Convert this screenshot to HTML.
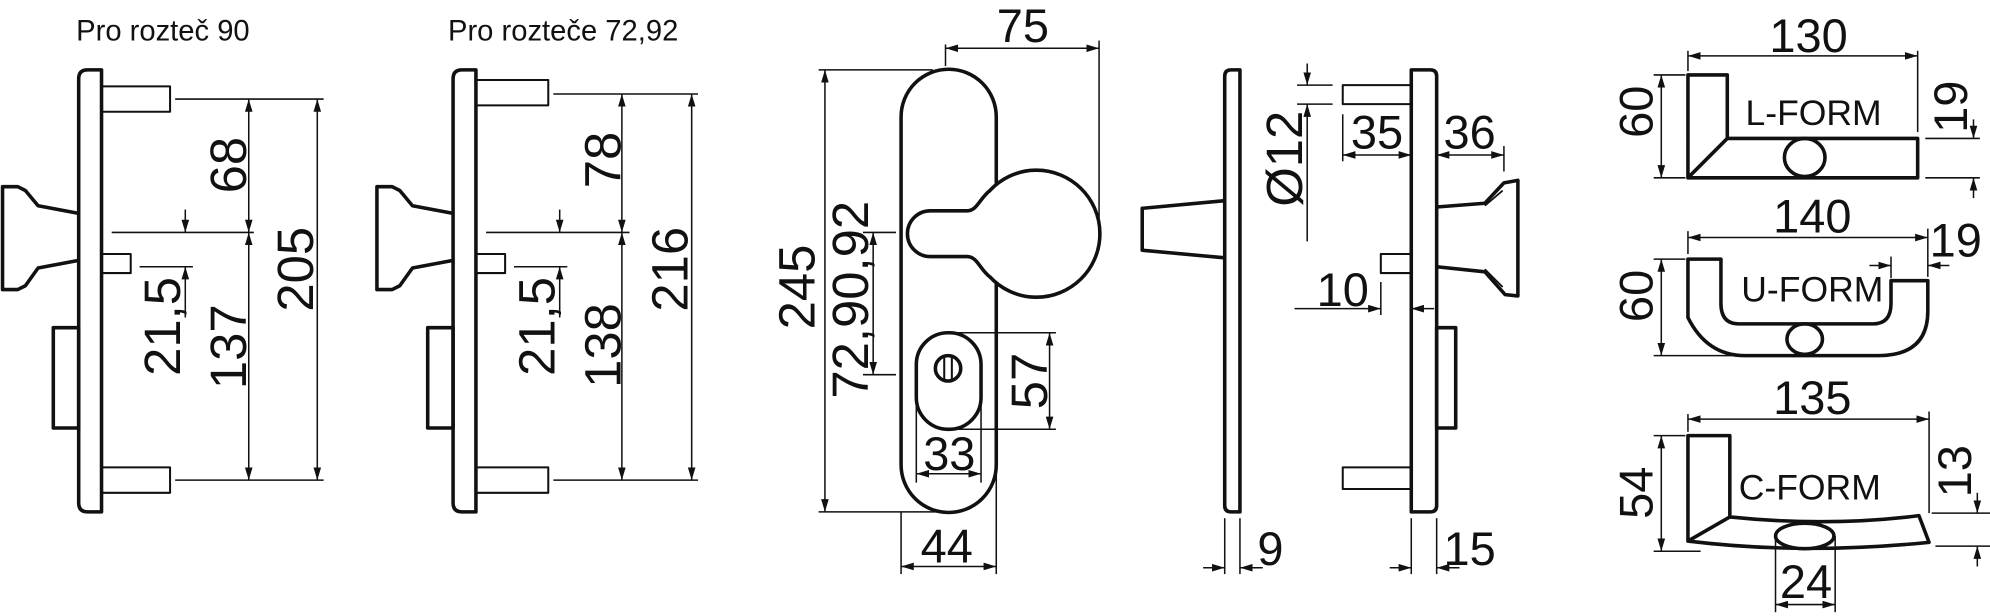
<!DOCTYPE html>
<html><head><meta charset="utf-8"><style>
html,body{margin:0;padding:0;background:#fff;}
svg{display:block;}
text{font-family:"Liberation Sans",sans-serif;fill:#111;}
</style></head><body>
<svg width="1990" height="616" viewBox="0 0 1568 485" preserveAspectRatio="none" xmlns="http://www.w3.org/2000/svg">
<defs>
<marker id="a" viewBox="0 0 10 6" refX="10" refY="3" markerWidth="10" markerHeight="6" markerUnits="userSpaceOnUse" orient="auto-start-reverse"><path d="M0,0 L10,3 L0,6 Z" fill="#111"/></marker>
</defs>
<g fill="none" stroke="#111" stroke-width="2.8" stroke-linejoin="round">
<!-- Panel 1 -->
<path d="M62,62 Q62,55 69,55 H80 V403 H69 Q62,403 62,396 Z"/>
<rect x="80" y="68" width="54" height="20" stroke-width="1.6"/>
<rect x="80" y="200" width="23" height="15" stroke-width="1.6"/>
<rect x="80" y="368" width="54" height="20" stroke-width="1.6"/>
<rect x="42" y="258" width="20" height="79"/>
<path d="M62,168 L30,162 L20,150 L14,147 H2 V228 H14 L20,225 L30,211 L62,205"/>
<!-- Panel 2 -->
<path d="M357,62 Q357,55 364,55 H375 V403 H364 Q357,403 357,396 Z"/>
<rect x="375" y="63" width="57" height="20" stroke-width="1.6"/>
<rect x="375" y="200" width="23" height="15" stroke-width="1.6"/>
<rect x="375" y="368" width="57" height="20" stroke-width="1.6"/>
<rect x="337" y="258" width="20" height="79"/>
<path d="M357,168 L325,162 L315,150 L309,147 H297 V228 H309 L315,225 L325,211 L357,205"/>
<!-- Panel 3 front -->
<path d="M710,92 A37.5,37.5 0 0 1 785,92 V366 A37.5,37.5 0 0 1 710,366 Z"/>
<path d="M733,166 H762 C770,166 772,156 780,150 A50,50 0 1 1 780,218 C772,212 770,202 762,202 H733 A18,18 0 0 1 733,166 Z" fill="#fff"/>
<rect x="722" y="262" width="51" height="76" rx="25" fill="#fff"/>
<circle cx="747" cy="290" r="10"/>
<line x1="744" y1="281" x2="744" y2="299" stroke-width="1.6"/>
<line x1="750" y1="281" x2="750" y2="299" stroke-width="1.6"/>
<!-- Panel 4 side -->
<path d="M965,60 Q965,55 970,55 H977 V403 H970 Q965,403 965,398 Z"/>
<path d="M965,158 L900,164 V197 L965,203"/>
<!-- Panel 5 -->
<path d="M1112,55 H1127 Q1132,55 1132,60 V398 Q1132,403 1127,403 H1112 Z"/>
<rect x="1058" y="67" width="54" height="15" stroke-width="1.6"/>
<rect x="1088" y="200" width="24" height="15" stroke-width="1.6"/>
<rect x="1058" y="368" width="54" height="17" stroke-width="1.6"/>
<rect x="1132" y="258" width="15" height="79"/>
<path d="M1132,163 L1170,160 L1185,144 L1196,142 V233 L1186,232 L1170,214 L1132,210"/>
<path d="M1170,162 L1184,150 M1170,212 L1184,226" stroke-width="1.4"/>
<!-- L-FORM -->
<path d="M1330,59 H1361 V109 H1511 V140 H1330 Z M1361,109 L1330,140"/>
<ellipse cx="1422" cy="124" rx="16" ry="15"/>
<!-- U-FORM -->
<path d="M1330,204 H1356 V239 Q1356,255 1370,255 H1476 Q1490,255 1490,239 V221 H1519 V245 Q1519,280 1480,280 H1375 Q1345,280 1330,250 Z"/>
<ellipse cx="1422" cy="267" rx="14" ry="12"/>
<!-- C-FORM -->
<path d="M1330,343 H1363 V407 Q1440,415 1512,406 L1520,427 Q1420,437 1330,426 Z M1363,407 L1330,426"/>
<ellipse cx="1422" cy="422" rx="23" ry="10" fill="#fff"/>
</g>
<g fill="none" stroke="#111" stroke-width="1.2">
<!-- Panel 1 dims -->
<line x1="138" y1="78" x2="255" y2="78"/><line x1="138" y1="378" x2="255" y2="378"/>
<line x1="88" y1="183" x2="200" y2="183"/><line x1="110" y1="210" x2="152" y2="210"/>
<line x1="196" y1="78" x2="196" y2="183" marker-start="url(#a)" marker-end="url(#a)"/>
<line x1="196" y1="183" x2="196" y2="378" marker-start="url(#a)" marker-end="url(#a)"/>
<line x1="250" y1="78" x2="250" y2="378" marker-start="url(#a)" marker-end="url(#a)"/>
<line x1="146" y1="165" x2="146" y2="183" marker-end="url(#a)"/>
<line x1="146" y1="250" x2="146" y2="210" marker-end="url(#a)"/>
<!-- Panel 2 dims -->
<line x1="436" y1="74" x2="550" y2="74"/><line x1="436" y1="378" x2="550" y2="378"/>
<line x1="383" y1="183" x2="496" y2="183"/><line x1="405" y1="210" x2="447" y2="210"/>
<line x1="490" y1="74" x2="490" y2="183" marker-start="url(#a)" marker-end="url(#a)"/>
<line x1="490" y1="183" x2="490" y2="378" marker-start="url(#a)" marker-end="url(#a)"/>
<line x1="545" y1="74" x2="545" y2="378" marker-start="url(#a)" marker-end="url(#a)"/>
<line x1="441" y1="165" x2="441" y2="183" marker-end="url(#a)"/>
<line x1="441" y1="250" x2="441" y2="210" marker-end="url(#a)"/>
<!-- Panel 3 dims -->
<line x1="645" y1="55" x2="735" y2="55"/><line x1="645" y1="403" x2="745" y2="403"/>
<line x1="650" y1="55" x2="650" y2="403" marker-start="url(#a)" marker-end="url(#a)"/>
<line x1="680" y1="183" x2="706" y2="183"/><line x1="680" y1="295" x2="706" y2="295"/>
<line x1="688" y1="183" x2="688" y2="295" marker-start="url(#a)" marker-end="url(#a)"/>
<line x1="745" y1="35" x2="745" y2="52"/><line x1="866" y1="32" x2="866" y2="186"/>
<line x1="745" y1="38" x2="866" y2="38" marker-start="url(#a)" marker-end="url(#a)"/>
<line x1="747" y1="262" x2="832" y2="262"/><line x1="747" y1="338" x2="832" y2="338"/>
<line x1="827" y1="262" x2="827" y2="338" marker-start="url(#a)" marker-end="url(#a)"/>
<line x1="722" y1="310" x2="722" y2="380"/><line x1="773" y1="310" x2="773" y2="380"/>
<line x1="722" y1="373" x2="773" y2="373" marker-start="url(#a)" marker-end="url(#a)"/>
<line x1="710" y1="403" x2="710" y2="452"/><line x1="785" y1="368" x2="785" y2="452"/>
<line x1="710" y1="446" x2="785" y2="446" marker-start="url(#a)" marker-end="url(#a)"/>
<!-- Panel 4 dims -->
<line x1="965" y1="408" x2="965" y2="452"/><line x1="977" y1="408" x2="977" y2="452"/>
<line x1="948" y1="447" x2="965" y2="447" marker-end="url(#a)"/>
<line x1="995" y1="447" x2="977" y2="447" marker-end="url(#a)"/>
<!-- Panel 5 dims -->
<line x1="1022" y1="67" x2="1050" y2="67"/><line x1="1022" y1="82" x2="1050" y2="82"/>
<line x1="1030" y1="50" x2="1030" y2="67" marker-end="url(#a)"/>
<line x1="1030" y1="190" x2="1030" y2="82" marker-end="url(#a)"/>
<line x1="1058" y1="90" x2="1058" y2="127"/>
<line x1="1058" y1="122" x2="1112" y2="122" marker-start="url(#a)" marker-end="url(#a)"/>
<line x1="1185" y1="115" x2="1185" y2="135"/>
<line x1="1132" y1="122" x2="1185" y2="122" marker-start="url(#a)" marker-end="url(#a)"/>
<line x1="1088" y1="222" x2="1088" y2="248"/>
<line x1="1020" y1="243" x2="1088" y2="243" marker-end="url(#a)"/>
<line x1="1130" y1="243" x2="1112" y2="243" marker-end="url(#a)"/>
<line x1="1112" y1="408" x2="1112" y2="452"/><line x1="1132" y1="408" x2="1132" y2="452"/>
<line x1="1095" y1="447" x2="1112" y2="447" marker-end="url(#a)"/>
<line x1="1150" y1="447" x2="1132" y2="447" marker-end="url(#a)"/>
<!-- L-FORM dims -->
<line x1="1330" y1="40" x2="1330" y2="56"/><line x1="1511" y1="40" x2="1511" y2="104"/>
<line x1="1330" y1="44" x2="1511" y2="44" marker-start="url(#a)" marker-end="url(#a)"/>
<line x1="1303" y1="59" x2="1328" y2="59"/><line x1="1303" y1="140" x2="1328" y2="140"/>
<line x1="1309" y1="59" x2="1309" y2="140" marker-start="url(#a)" marker-end="url(#a)"/>
<line x1="1517" y1="109" x2="1560" y2="109"/><line x1="1517" y1="140" x2="1560" y2="140"/>
<line x1="1555" y1="94" x2="1555" y2="109" marker-end="url(#a)"/>
<line x1="1555" y1="156" x2="1555" y2="140" marker-end="url(#a)"/>
<!-- U-FORM dims -->
<line x1="1330" y1="182" x2="1330" y2="200"/><line x1="1519" y1="180" x2="1519" y2="218"/>
<line x1="1330" y1="187" x2="1519" y2="187" marker-start="url(#a)" marker-end="url(#a)"/>
<line x1="1303" y1="204" x2="1328" y2="204"/><line x1="1303" y1="280" x2="1372" y2="280"/>
<line x1="1309" y1="204" x2="1309" y2="280" marker-start="url(#a)" marker-end="url(#a)"/>
<line x1="1490" y1="202" x2="1490" y2="219"/>
<line x1="1473" y1="209" x2="1490" y2="209" marker-end="url(#a)"/>
<line x1="1536" y1="209" x2="1519" y2="209" marker-end="url(#a)"/>
<!-- C-FORM dims -->
<line x1="1330" y1="326" x2="1330" y2="340"/><line x1="1520" y1="324" x2="1520" y2="404"/>
<line x1="1330" y1="330" x2="1520" y2="330" marker-start="url(#a)" marker-end="url(#a)"/>
<line x1="1303" y1="343" x2="1328" y2="343"/><line x1="1303" y1="434" x2="1340" y2="434"/>
<line x1="1309" y1="343" x2="1309" y2="434" marker-start="url(#a)" marker-end="url(#a)"/>
<line x1="1522" y1="404" x2="1568" y2="404"/><line x1="1525" y1="430" x2="1568" y2="430"/>
<line x1="1558" y1="388" x2="1558" y2="404" marker-end="url(#a)"/>
<line x1="1558" y1="446" x2="1558" y2="430" marker-end="url(#a)"/>
<line x1="1399" y1="422" x2="1399" y2="482"/><line x1="1446" y1="422" x2="1446" y2="482"/>
<line x1="1399" y1="476" x2="1446" y2="476" marker-start="url(#a)" marker-end="url(#a)"/>
</g>
<g font-size="23">
<text x="60" y="32">Pro rozteč 90</text>
<text x="353" y="32">Pro rozteče 72,92</text>
</g>
<g font-size="40" text-anchor="middle" dominant-baseline="central">
<text transform="translate(180,130) rotate(-90)">68</text>
<text transform="translate(180,273) rotate(-90)">137</text>
<text transform="translate(233,212) rotate(-90)">205</text>
<text transform="translate(128,257) rotate(-90)">21,5</text>
<text transform="translate(475,126) rotate(-90)">78</text>
<text transform="translate(475,272) rotate(-90)">138</text>
<text transform="translate(528,212) rotate(-90)">216</text>
<text transform="translate(423,257) rotate(-90)">21,5</text>
<text transform="translate(628,226) rotate(-90)">245</text>
<text transform="translate(670,236) rotate(-90)">72,90,92</text>
<text transform="translate(811,300) rotate(-90)">57</text>
<text transform="translate(1012,125) rotate(-90)">Ø12</text>
</g>
<g font-size="37" text-anchor="middle" dominant-baseline="central">
<text x="806" y="20">75</text>
<text x="748" y="357">33</text>
<text x="746" y="430">44</text>
<text x="1001" y="432">9</text>
<text x="1085" y="104">35</text>
<text x="1158" y="104">36</text>
<text x="1058" y="228">10</text>
<text x="1158" y="432">15</text>
<text x="1425" y="28">130</text>
<text transform="translate(1289,88) rotate(-90)">60</text>
<text transform="translate(1537,84) rotate(-90)">19</text>
<text x="1428" y="170">140</text>
<text x="1541" y="189">19</text>
<text transform="translate(1289,233) rotate(-90)">60</text>
<text x="1428" y="313">135</text>
<text transform="translate(1289,388) rotate(-90)">54</text>
<text transform="translate(1540,371) rotate(-90)">13</text>
<text x="1423" y="458">24</text>
</g>
<g font-size="28" text-anchor="middle" dominant-baseline="central">
<text x="1429" y="89">L-FORM</text>
<text x="1428" y="228">U-FORM</text>
<text x="1426" y="384">C-FORM</text>
</g>
</svg>
</body></html>
